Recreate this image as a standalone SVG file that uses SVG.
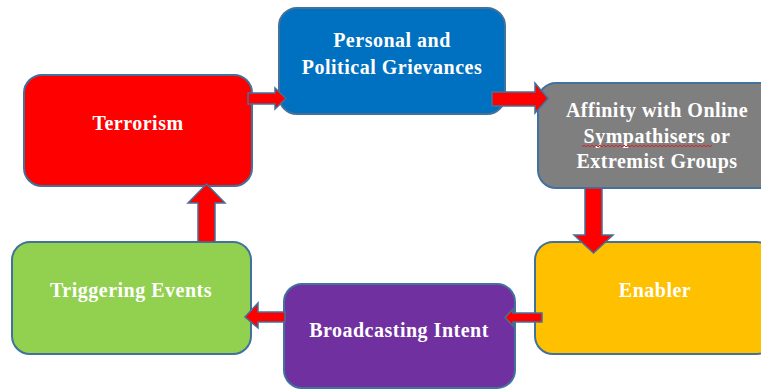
<svg xmlns="http://www.w3.org/2000/svg" width="761" height="389" viewBox="0 0 761 389">
  <style>
    .box { stroke: #41719C; stroke-width: 2; }
    .arrow { fill: #FF0000; stroke: #41719C; stroke-width: 1.5; stroke-linejoin: miter; }
    .label { font-family: "Liberation Serif", "Times New Roman", serif; font-weight: bold; font-size: 20px; letter-spacing: 0.5px; fill: #FFFFFF; text-anchor: middle; }
  </style>
  <rect width="761" height="389" fill="#FFFFFF"/>

  <g id="terrorism">
    <rect class="box" x="24" y="75" width="228" height="111" rx="18" fill="#FF0000"/>
    <text class="label" x="138" y="130">Terrorism</text>
  </g>

  <g id="grievances">
    <rect class="box" x="279" y="8" width="226" height="106" rx="18" fill="#0070C0"/>
    <text class="label" x="392" y="47">Personal and</text>
    <text class="label" x="392" y="74">Political Grievances</text>
  </g>

  <g id="affinity">
    <rect class="box" x="538" y="83" width="240" height="105" rx="18" fill="#7F7F7F"/>
    <text class="label" x="657" y="117">Affinity with Online</text>
    <text class="label" x="657" y="143">Sympathisers or</text>
    <text class="label" x="657" y="168">Extremist Groups</text>
    <path d="M582,147 l2,-2 l2,2 l2,-2 l2,2 l2,-2 l2,2 l2,-2 l2,2 l2,-2 l2,2 l2,-2 l2,2 l2,-2 l2,2 l2,-2 l2,2 l2,-2 l2,2 l2,-2 l2,2 l2,-2 l2,2 l2,-2 l2,2 l2,-2 l2,2 l2,-2 l2,2 l2,-2 l2,2 l2,-2 l2,2 l2,-2 l2,2 l2,-2 l2,2 l2,-2 l2,2 l2,-2 l2,2 l2,-2 l2,2 l2,-2 l2,2 l2,-2 l2,2 l2,-2 l2,2 l2,-2 l2,2 l2,-2 l2,2 l2,-2 l2,2 l2,-2 l2,2 l2,-2 l2,2 l2,-2 l2,2 l2,-2 l2,2 l2,-2 l2,2 l2,-2" fill="none" stroke="#E02020" stroke-width="1"/>
  </g>

  <g id="enabler">
    <rect class="box" x="535" y="242" width="240" height="112" rx="18" fill="#FFC000"/>
    <text class="label" x="655" y="297">Enabler</text>
  </g>

  <g id="broadcasting">
    <rect class="box" x="284" y="284" width="231" height="104" rx="18" fill="#7030A0"/>
    <text class="label" x="399" y="337">Broadcasting Intent</text>
  </g>

  <g id="triggering">
    <rect class="box" x="12" y="242" width="239" height="112" rx="18" fill="#92D050"/>
    <text class="label" x="131" y="297">Triggering Events</text>
  </g>

  <g id="connectors">
    <polygon class="arrow" points="248,93 275,93 275,88 286,98.5 275,109 275,104 248,104"/>
    <polygon class="arrow" points="492,92 535,92 535,83 548,98.5 535,113 535,106 492,106"/>
    <polygon class="arrow" points="585,188 602,188 602,235 613,235 593.5,253 574,235 585,235"/>
    <polygon class="arrow" points="542,313 513,313 513,309 505,317.5 513,326 513,322 542,322"/>
    <polygon class="arrow" points="285,312 258,312 258,303 245,317 258,328 258,322 285,322"/>
    <polygon class="arrow" points="198,242 198,203 188,203 206.5,184 225,203 215,203 215,242"/>
  </g>
</svg>
